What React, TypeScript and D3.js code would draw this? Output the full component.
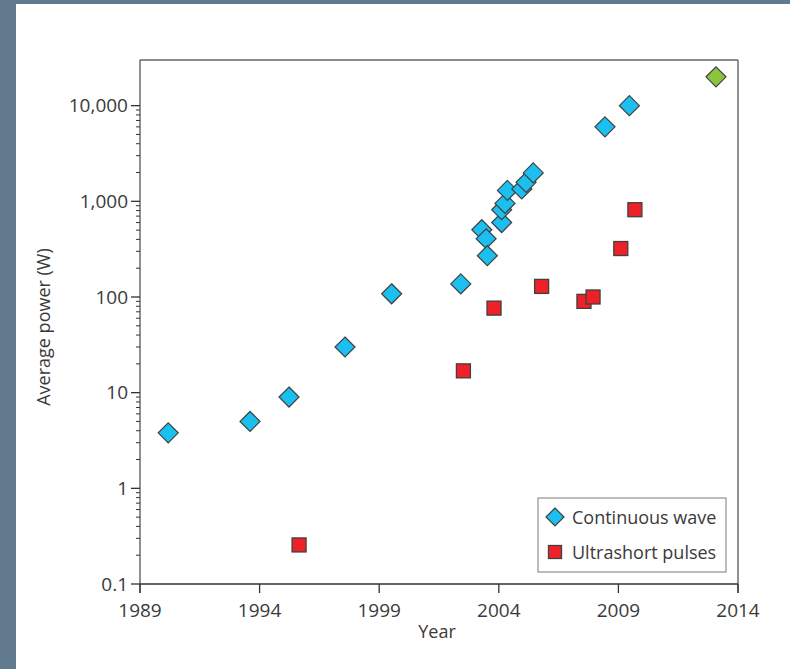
import React from "react";
import * as d3 from "d3";

const cwYears = [1990.18, 1993.6, 1995.23, 1997.57, 1999.52, 2002.41, 2003.29, 2003.47, 2003.52, 2004.12, 2004.12, 2004.26, 2004.36, 2004.96, 2005.14, 2005.44, 2008.44, 2009.46];
const cwPower = [3.8, 5, 9, 30, 108, 137, 505, 406, 270, 600, 817, 950, 1300, 1345, 1580, 1980, 6000, 10000];
const usYears = [1995.65, 2002.52, 2003.8, 2005.79, 2007.56, 2007.94, 2009.1, 2009.69];
const usPower = [0.256, 16.9, 76.5, 129, 90, 100, 321, 817];
const greenYears = [2013.08];
const greenPower = [20000];
const xTicks = [1989, 1994, 1999, 2004, 2009, 2014];
const yTicks = [0.1, 1, 10, 100, 1000, 10000];
const yTickLabels = ["0.1", "1", "10", "100", "1,000", "10,000"];
const legendLabels = ["Continuous wave", "Ultrashort pulses"];

const W = 790, H = 669;
const L = 140, R = 738, T = 60, B = 584;
const FONT = "'Open Sans', 'Noto Sans', sans-serif";
const TXT = "#3a3a3a";
const CW = "#1cc0f0", US = "#ee2128", GR = "#8cc43e", STK = "#404040";

export default function App() {
  const x = d3.scaleLinear().domain([1989, 2014]).range([L, R]);
  const y = d3.scaleLog().domain([0.1, 30000]).range([B, T]);
  const minor: number[] = [];
  for (let e = -1; e < 4; e++) for (let k = 2; k <= 9; k++) minor.push(k * Math.pow(10, e));
  const diamond = (cx: number, cy: number, r: number) =>
    `M${cx},${cy - r}L${cx + r},${cy}L${cx},${cy + r}L${cx - r},${cy}Z`;
  const sq = 14;
  return (
    <svg width={W} height={H} style={{ position: "absolute", left: 0, top: 0, background: "#fff" }} fontFamily={FONT}>
      <rect x={0} y={0} width={W} height={4} fill="#627a8e" />
      <rect x={0} y={0} width={16} height={H} fill="#627a8e" />
      {/* frame */}
      <line x1={L} x2={R} y1={T} y2={T} stroke="#666" strokeWidth={1.3} />
      <line x1={R} x2={R} y1={T} y2={B + 9} stroke="#555" strokeWidth={1.3} />
      <line x1={L} x2={L} y1={T} y2={B + 9} stroke="#555" strokeWidth={1.3} />
      <line x1={L} x2={R} y1={B} y2={B} stroke="#333" strokeWidth={1.3} />
      {xTicks.map((t) => (
        <g key={t}>
          <line x1={x(t)} x2={x(t)} y1={B} y2={B + 9} stroke="#333" strokeWidth={1.3} />
          <text x={x(t)} y={617} textAnchor="middle" fontSize={19} fill={TXT}>{t}</text>
        </g>
      ))}
      {yTicks.map((t, i) => (
        <g key={t}>
          <line x1={L - 9} x2={L} y1={y(t)} y2={y(t)} stroke="#333" strokeWidth={1.3} />
          <text x={128} y={y(t)} dy="0.36em" textAnchor="end" fontSize={19} fill={TXT}>{yTickLabels[i]}</text>
        </g>
      ))}
      {minor.map((t) => (
        <line key={t} x1={L - 4} x2={L} y1={y(t)} y2={y(t)} stroke="#333" strokeWidth={1} />
      ))}
      <text x={437} y={638} textAnchor="middle" fontSize={18} fill={TXT}>Year</text>
      <text transform={`translate(50,327) rotate(-90)`} textAnchor="middle" fontSize={18} fill={TXT}>Average power (W)</text>
      {/* data */}
      {usYears.map((yr, i) => (
        <rect key={"u" + i} x={x(yr) - sq / 2} y={y(usPower[i]) - sq / 2} width={sq} height={sq} fill={US} stroke={STK} strokeWidth={1.3} />
      ))}
      {cwYears.map((yr, i) => (
        <path key={"c" + i} d={diamond(x(yr), y(cwPower[i]), 10)} fill={CW} stroke={STK} strokeWidth={1.2} />
      ))}
      {greenYears.map((yr, i) => (
        <path key={"g" + i} d={diamond(x(yr), y(greenPower[i]), 10)} fill={GR} stroke={STK} strokeWidth={1.2} />
      ))}
      {/* legend */}
      <rect x={538} y={498} width={188} height={74} fill="#fff" stroke="#999" strokeWidth={1.3} />
      <path d={diamond(555, 517, 9)} fill={CW} stroke={STK} strokeWidth={1.2} />
      <rect x={548.5} y={545.5} width={13} height={13} fill={US} stroke={STK} strokeWidth={1.3} />
      <text x={572} y={524} fontSize={18} fill={TXT}>{legendLabels[0]}</text>
      <text x={572} y={559} fontSize={18} fill={TXT}>{legendLabels[1]}</text>
    </svg>
  );
}
